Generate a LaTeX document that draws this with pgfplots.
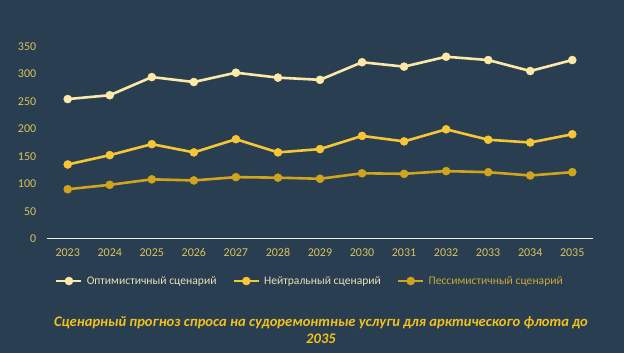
\documentclass[border=0pt]{standalone}
\usepackage{fontspec}
\setmainfont{Carlito}
\usepackage{pgfplots}
\pgfplotsset{compat=1.18}
\definecolor{bg}{HTML}{2A3E52}
\definecolor{optc}{HTML}{FCE9A8}
\definecolor{neuc}{HTML}{F6C637}
\definecolor{pesc}{HTML}{D2A41C}
\definecolor{tickc}{HTML}{D8C35C}
\definecolor{leg1}{HTML}{E8E0B8}
\definecolor{leg3}{HTML}{C8A838}
\definecolor{titlec}{HTML}{F2C21B}
\begin{document}
\begin{tikzpicture}[x=1pt,y=1pt]
\fill[bg] (0,0) rectangle (624,353);
\begin{axis}[
  at={(46.7pt,114.3pt)}, anchor=south west,
  width=546.6pt, height=192.4pt, scale only axis,
  xmin=2022.5, xmax=2035.5, ymin=0, ymax=350,
  xtick={2023,...,2035}, ytick={0,50,...,350},
  xticklabel style={/pgf/number format/1000 sep={}, font=\fontsize{12}{14}\selectfont, text=tickc, yshift=-6pt},
  yticklabel style={font=\fontsize{12}{14}\selectfont, text=tickc, xshift=-7pt},
  /pgf/number format/assume math mode=true,
  major tick length=0pt,
  axis x line*=bottom, axis y line*=left,
  y axis line style={draw=none},
  x axis line style={draw=white!85!gray, line width=1pt, -},
  clip=false,
  legend columns=3,
  legend style={at={(0.4817,-0.22)}, anchor=center, draw=none, fill=none,
    font=\fontsize{11.6}{13}\selectfont, column sep=2pt},
  /tikz/every even column/.append style={column sep=14pt},
  legend image code/.code={
    \draw[#1, mark=none] (0pt,0pt) -- (25pt,0pt);
    \draw[#1, only marks] plot coordinates {(12.5pt,0pt)};
  },
  every axis plot/.append style={line width=2.6pt, mark=*, mark size=4pt},
]
\addplot[color=optc, mark options={fill=optc, draw=optc, line width=0.5pt}] coordinates {
(2023,254) (2024,261) (2025,294) (2026,285) (2027,302) (2028,293) (2029,289)
(2030,321) (2031,313) (2032,331) (2033,325) (2034,305) (2035,325)};
\addlegendentry{\textcolor{leg1}{Оптимистичный сценарий}}
\addplot[color=neuc, mark options={fill=neuc, draw=neuc, line width=0.5pt}] coordinates {
(2023,135) (2024,152) (2025,172) (2026,157) (2027,181) (2028,157) (2029,163)
(2030,187) (2031,177) (2032,199) (2033,180) (2034,175) (2035,190)};
\addlegendentry{\textcolor{leg1}{Нейтральный сценарий}}
\addplot[color=pesc, mark options={fill=pesc, draw=pesc, line width=0.5pt}] coordinates {
(2023,90) (2024,98) (2025,108) (2026,106) (2027,112) (2028,111) (2029,109)
(2030,119) (2031,118) (2032,123) (2033,121) (2034,115) (2035,121)};
\addlegendentry{\textcolor{leg3}{Пессимистичный сценарий}}
\end{axis}
\node[text=titlec, font=\fontsize{14.6}{16.5}\selectfont\bfseries\itshape, align=center] at (321,23)
  {Сценарный прогноз спроса на судоремонтные услуги для арктического флота до\\2035};
\end{tikzpicture}
\end{document}
